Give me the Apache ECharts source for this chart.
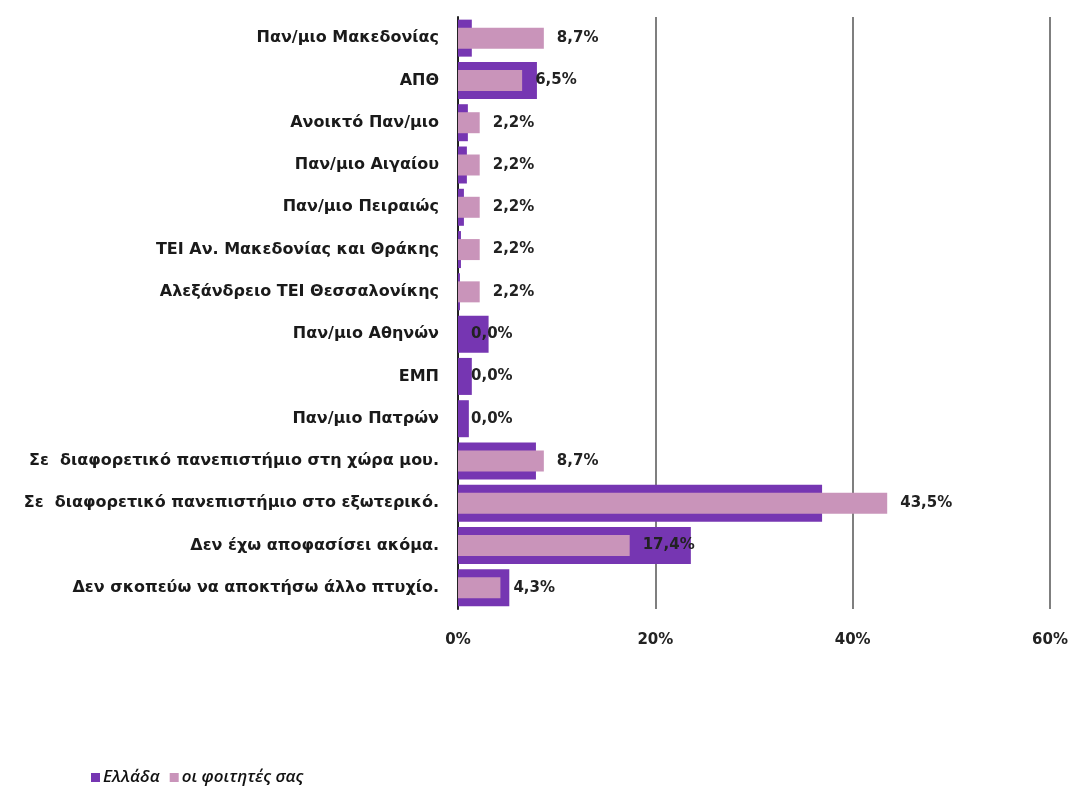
<!DOCTYPE html>
<html><head><meta charset="utf-8">
<script src="https://cdn.jsdelivr.net/npm/echarts@6/dist/echarts.min.js"></script>
<style>html,body{margin:0;padding:0;background:#fff}#c{width:1072px;height:787px}</style>
</head><body><div id="c"></div>
<script>
const categories = [
  'Παν/μιο Μακεδονίας','ΑΠΘ','Ανοικτό Παν/μιο','Παν/μιο Αιγαίου','Παν/μιο Πειραιώς',
  'ΤΕΙ Αν. Μακεδονίας και Θράκης','Αλεξάνδρειο ΤΕΙ Θεσσαλονίκης','Παν/μιο Αθηνών','ΕΜΠ',
  'Παν/μιο Πατρών','Σε  διαφορετικό πανεπιστήμιο στη χώρα μου.',
  'Σε  διαφορετικό πανεπιστήμιο στο εξωτερικό.','Δεν έχω αποφασίσει ακόμα.',
  'Δεν σκοπεύω να αποκτήσω άλλο πτυχίο.'
];
const greece = [1.4, 8.0, 1.0, 0.9, 0.6, 0.3, 0.2, 3.1, 1.4, 1.1, 7.9, 36.9, 23.6, 5.2];
const students = [8.7, 6.5, 2.2, 2.2, 2.2, 2.2, 2.2, 0.0, 0.0, 0.0, 8.7, 43.5, 17.4, 4.3];
const xTicks = [0, 20, 40, 60];
const seriesNames = ['Ελλάδα', 'οι φοιτητές σας'];

const FONT = '"DejaVu Sans", "Noto Sans", sans-serif';
const chart = echarts.init(document.getElementById('c'), null, {renderer: 'canvas'});
chart.setOption({
  animation: false,
  backgroundColor: '#fff',
  grid: {left: 458, right: 22, top: 17, bottom: 178, containLabel: false},
  legend: {
    left: 86, top: 764, itemWidth: 9, itemHeight: 9, itemGap: 10, icon: 'rect',
    textStyle: {fontFamily: '"Open Sans", sans-serif', fontSize: 17, fontStyle: 'italic', fontWeight: 600, color: '#111', padding: [0, 0, 0, -2]},
    data: seriesNames
  },
  xAxis: {
    type: 'value', min: xTicks[0], max: xTicks[xTicks.length - 1], interval: 20,
    axisLine: {show: false}, axisTick: {show: false},
    axisLabel: {formatter: '{value}%', margin: 24, fontFamily: FONT, fontSize: 15, fontWeight: 'bold', color: '#222'},
    splitLine: {show: true, lineStyle: {color: '#555', width: 1.5}}
  },
  yAxis: [
    {
      type: 'category', data: categories, inverse: true,
      axisLine: {show: true, lineStyle: {color: '#222', width: 2}},
      axisTick: {show: false},
      axisLabel: {margin: 19, fontFamily: FONT, fontSize: 16, fontWeight: 'bold', color: '#1a1a1a'}
    },
    {
      type: 'category', data: categories, inverse: true, position: 'left',
      axisLine: {show: false}, axisTick: {show: false}, axisLabel: {show: false}
    }
  ],
  series: [
    {
      name: seriesNames[0], type: 'bar', yAxisIndex: 0, data: greece, barWidth: 37,
      itemStyle: {color: '#7636B2'}
    },
    {
      name: seriesNames[1], type: 'bar', yAxisIndex: 1, data: students, barWidth: 21,
      itemStyle: {color: '#C994BA'},
      label: {
        show: true, position: 'right', distance: 13,
        fontFamily: FONT, fontSize: 15, fontWeight: 'bold', color: '#222',
        formatter: p => p.value.toFixed(1).replace('.', ',') + '%'
      }
    }
  ]
});
</script></body></html>
